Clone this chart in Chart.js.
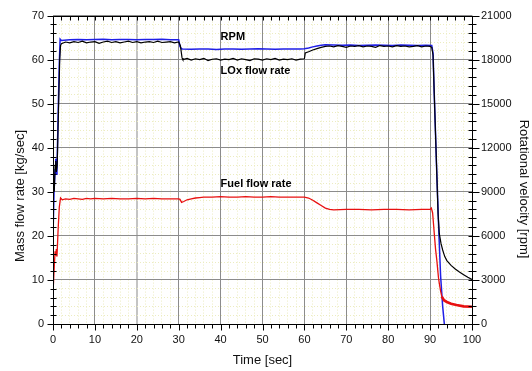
<!DOCTYPE html>
<html>
<head>
<meta charset="utf-8">
<script src="https://cdn.jsdelivr.net/npm/chart.js@4.4.0/dist/chart.umd.min.js"></script>
<style>
html, body { margin: 0; padding: 0; background: #fff; }
</style>
</head>
<body>
<canvas id="myChart" width="532" height="371"></canvas>
<script>
// LOx flow rate [kg/sec]
var loxTime = [0.3, 0.5, 0.65, 0.8, 1.0, 1.3, 1.6, 1.8,
    2, 3, 4, 5, 6, 7, 8, 9, 10, 11, 12, 13, 14, 15, 16, 17, 18, 19, 20,
    21, 22, 23, 24, 25, 26, 27, 28, 29, 30,
    30.4, 30.8,
    31, 32, 33, 34, 35, 36, 37, 38, 39, 40, 41, 42, 43, 44, 45, 46, 47, 48, 49, 50,
    51, 52, 53, 54, 55, 56, 57, 58, 59, 60,
    60.2, 61, 62, 63, 64, 65,
    66, 67, 68, 69, 70, 71, 72, 73, 74, 75, 76, 77, 78, 79, 80,
    81, 82, 83, 84, 85, 86, 87, 88, 89, 90,
    90.4, 90.7, 91.0, 91.5, 91.9, 92.2, 92.6, 93.0, 93.5, 94, 95, 96, 97, 98, 99, 100];
var loxFlow = [30, 36, 37, 34.5, 36, 48, 60, 63.2,
    63.6, 64.0, 63.8, 64.1, 63.9, 64.2, 63.8, 64.0, 64.1, 63.7, 64.0, 64.2, 63.9, 64.1, 63.8, 64.0, 64.2, 63.9, 64.1,
    63.8, 64.0, 64.1, 63.9, 64.2, 63.9, 64.0, 64.1, 63.8, 64.0,
    63.2, 60.4,
    60.0, 60.3, 59.9, 60.2, 60.0, 60.3, 59.8, 60.1, 60.2, 59.9, 60.1, 60.0, 60.3, 59.9, 60.2, 60.0, 59.8, 60.2, 60.1, 59.9,
    60.2, 60.0, 60.3, 59.9, 60.1, 60.0, 60.2, 59.9, 60.1, 60.2,
    61.5, 61.8, 62.2, 62.5, 62.8, 63.0,
    63.1, 62.9, 63.2, 63.0, 62.8, 63.1, 63.0, 63.2, 62.9, 63.1, 63.0, 62.8, 63.2, 63.0, 63.1,
    62.9, 63.2, 63.0, 63.1, 62.9, 63.0, 63.2, 62.9, 63.1, 63.0,
    62.8, 61, 52, 37, 25, 20.5, 18.3, 16.8, 15.3, 14.4, 13.3, 12.5, 11.8, 11.2, 10.6, 10.1];

// Fuel flow rate [kg/sec]
var fuelTime = [0.1, 0.3, 0.5, 0.65, 0.8, 0.95, 1.2, 1.5, 1.8, 2.2,
    3, 4, 5, 6, 7, 8, 9, 10,
    12, 14, 16, 18, 20, 22, 24, 26, 28, 30,
    30.3, 30.7, 31.2,
    32, 33, 34, 35, 36,
    38, 40, 42, 44, 46, 48, 50, 52, 54, 56, 58, 60,
    61, 62, 63, 64, 65, 66, 67,
    70, 73, 76, 79, 82, 85, 88,
    90, 90.3, 90.6,
    91, 91.3, 91.6, 92, 92.2, 92.5, 92.8, 93.3,
    94, 95, 96.3, 98, 100];
var fuelFlow = [9, 13, 16.5, 15.5, 17, 15.3, 21, 26.5, 28.6, 28.2,
    28.4, 28.3, 28.5, 28.4, 28.3, 28.5, 28.4, 28.5,
    28.4, 28.5, 28.4, 28.4, 28.5, 28.4, 28.5, 28.4, 28.4, 28.4,
    28.3, 27.6, 27.8,
    28.2, 28.4, 28.6, 28.7, 28.8,
    28.8, 28.9, 28.8, 28.8, 28.9, 28.8, 28.8, 28.9, 28.8, 28.8, 28.8, 28.8,
    28.6, 28.1, 27.5, 26.9, 26.3, 26.0, 25.9,
    26.0, 26.0, 25.9, 26.0, 26.0, 25.9, 26.0,
    26.0, 26.3, 25.2,
    20.5, 17, 14.5, 10.5, 9.2, 7.5, 6.2, 5.4,
    5.0, 4.6, 4.3, 4.0, 3.9];

// RPM [rpm], right axis
var rpmTime = [0, 0.05, 0.25, 0.5, 0.65, 0.8, 0.95, 1.2, 1.5, 1.7,
    2, 4, 6, 8, 10, 12, 14, 16, 18, 20, 22, 24, 26, 28, 30,
    30.3, 30.7,
    31, 33, 35, 37, 39, 41, 43, 45, 47, 49, 51, 53, 55, 57, 59,
    60, 61, 62, 63, 64, 65,
    67, 69, 71, 73, 75, 77, 79, 81, 83, 85, 87, 89,
    90.4, 90.7, 91.0, 91.5, 92.0, 92.5, 93.0, 93.4];
var rpmValue = [0, 6600, 9000, 10500, 11250, 10200, 10500, 14000, 17700, 19400,
    19300, 19360, 19380, 19350, 19370, 19390, 19360, 19380, 19370, 19350, 19380, 19370, 19390, 19360, 19350,
    18900, 18730,
    18720, 18710, 18730, 18720, 18700, 18720, 18730, 18710, 18720, 18740, 18720, 18710, 18730, 18720, 18720,
    18740, 18800, 18870, 18930, 18980, 19010,
    19000, 18980, 18990, 18970, 18980, 19000, 18980, 18970, 18990, 18980, 18970, 18980,
    18960, 18450, 15600, 11100, 6900, 3300, 1200, 0];

var seriesLabels = [
    { text: "RPM", x: 40, y: 65.1 },
    { text: "LOx flow rate", x: 40, y: 57.4 },
    { text: "Fuel flow rate", x: 40, y: 31.8 }
];

var xTitle = "Time [sec]";
var yTitle = "Mass flow rate [kg/sec]";
var y2Title = "Rotational velocity [rpm]";

var FONT = "'Liberation Sans', Arial, sans-serif";

function toPoints(xs, ys) {
    return xs.map(function (t, i) { return { x: t, y: ys[i] }; });
}

function isMajor(ctx) {
    return ctx.tick && ctx.tick.value % 10 === 0;
}

// frame, tick marks, line labels and side titles
var decorations = {
    id: "decorations",
    afterDraw: function (chart) {
        var ctx = chart.ctx;
        var a = chart.chartArea;
        var xs = chart.scales.x, ys = chart.scales.y;
        var L = Math.round(a.left) + 0.5, R = Math.round(a.right) + 0.5;
        var T = Math.round(a.top) + 0.5, B = Math.round(a.bottom) + 0.5;
        ctx.save();
        ctx.strokeStyle = "#000";
        ctx.lineWidth = 1;
        ctx.beginPath();
        ctx.rect(L, T, R - L, B - T);
        xs.ticks.forEach(function (tk) {
            var px = Math.round(xs.getPixelForValue(tk.value)) + 0.5;
            var major = tk.value % 10 === 0;
            ctx.moveTo(px, B);
            ctx.lineTo(px, B + (major ? 6 : 4));
            ctx.moveTo(px, T);
            ctx.lineTo(px, T + 4);
        });
        ys.ticks.forEach(function (tk) {
            var py = Math.round(ys.getPixelForValue(tk.value)) + 0.5;
            var major = tk.value % 10 === 0;
            if (major) {
                ctx.moveTo(L - 6, py); ctx.lineTo(L, py);
                ctx.moveTo(R - 4, py); ctx.lineTo(R + 7, py);
            } else {
                ctx.moveTo(L - 3, py); ctx.lineTo(L + 3, py);
                ctx.moveTo(R - 4, py); ctx.lineTo(R + 4, py);
            }
        });
        ctx.stroke();

        ctx.fillStyle = "#000";
        ctx.font = "bold 11px " + FONT;
        ctx.textAlign = "left";
        ctx.textBaseline = "middle";
        seriesLabels.forEach(function (l) {
            ctx.fillText(l.text, xs.getPixelForValue(l.x), ys.getPixelForValue(l.y));
        });

        ctx.font = "13px " + FONT;
        ctx.textAlign = "center";
        ctx.fillStyle = "#111";
        ctx.save();
        ctx.translate(20, 196);
        ctx.rotate(-Math.PI / 2);
        ctx.fillText(yTitle, 0, 0);
        ctx.restore();
        ctx.save();
        ctx.translate(524, 189);
        ctx.rotate(Math.PI / 2);
        ctx.fillText(y2Title, 0, 0);
        ctx.restore();
        ctx.restore();
    }
};

var tickFont = { family: FONT, size: 11 };

new Chart("myChart", {
    type: "line",
    data: {
        datasets: [
            {
                label: "LOx flow rate",
                data: toPoints(loxTime, loxFlow),
                yAxisID: "y",
                borderColor: "#000000",
                borderWidth: 1.2
            },
            {
                label: "Fuel flow rate",
                data: toPoints(fuelTime, fuelFlow),
                yAxisID: "y",
                borderColor: "#e81010",
                borderWidth: 1.3,
                segment: {
                    borderWidth: function (ctx) { return ctx.p0.parsed.x > 92.5 ? 2.6 : 1.3; }
                }
            },
            {
                label: "RPM",
                data: toPoints(rpmTime, rpmValue),
                yAxisID: "y2",
                borderColor: "#1f1fe6",
                borderWidth: 1.5
            }
        ]
    },
    options: {
        responsive: false,
        animation: false,
        layout: { padding: { top: 15, left: 0, right: 0, bottom: 0 } },
        elements: { point: { radius: 0 }, line: { tension: 0 } },
        plugins: {
            legend: { display: false },
            tooltip: { enabled: false }
        },
        scales: {
            x: {
                type: "linear",
                min: 0,
                max: 100,
                afterFit: function (s) { s.height = 47; },
                ticks: {
                    stepSize: 2,
                    autoSkip: false,
                    maxRotation: 0,
                    padding: 9,
                    color: "#111",
                    font: tickFont,
                    callback: function (v) { return v % 10 === 0 ? String(v) : ""; }
                },
                grid: {
                    drawTicks: false,
                    color: function (ctx) {
                        if (ctx.tick && ctx.tick.value === 20) return "#c4c4c4";
                        return isMajor(ctx) ? "#8c8c8c" : "#ececc0";
                    },
                    lineWidth: function (ctx) { return ctx.tick && ctx.tick.value === 20 ? 2 : 1; }
                },
                border: {
                    display: false,
                    dash: function (ctx) { return isMajor(ctx) ? [] : [1, 2]; }
                },
                title: {
                    display: true,
                    text: xTitle,
                    font: { family: FONT, size: 13 },
                    color: "#111",
                    padding: { top: 0, bottom: 3 }
                }
            },
            y: {
                position: "left",
                min: 0,
                max: 70,
                afterFit: function (s) { s.width = 53; },
                ticks: {
                    stepSize: 2,
                    autoSkip: false,
                    padding: 9,
                    color: "#111",
                    font: tickFont,
                    callback: function (v) { return v % 10 === 0 ? String(v) : ""; }
                },
                grid: {
                    drawTicks: false,
                    color: function (ctx) { return isMajor(ctx) ? "#8c8c8c" : "#ececc0"; }
                },
                border: {
                    display: false,
                    dash: function (ctx) { return isMajor(ctx) ? [] : [1, 2]; }
                }
            },
            y2: {
                position: "right",
                display: true,
                min: 0,
                max: 21000,
                afterFit: function (s) { s.width = 60; },
                ticks: {
                    stepSize: 3000,
                    padding: 9,
                    color: "#111",
                    font: tickFont,
                    callback: function (v) { return String(v); }
                },
                grid: { display: false, drawTicks: false },
                border: { display: false }
            }
        }
    },
    plugins: [decorations]
});
</script>
</body>
</html>
